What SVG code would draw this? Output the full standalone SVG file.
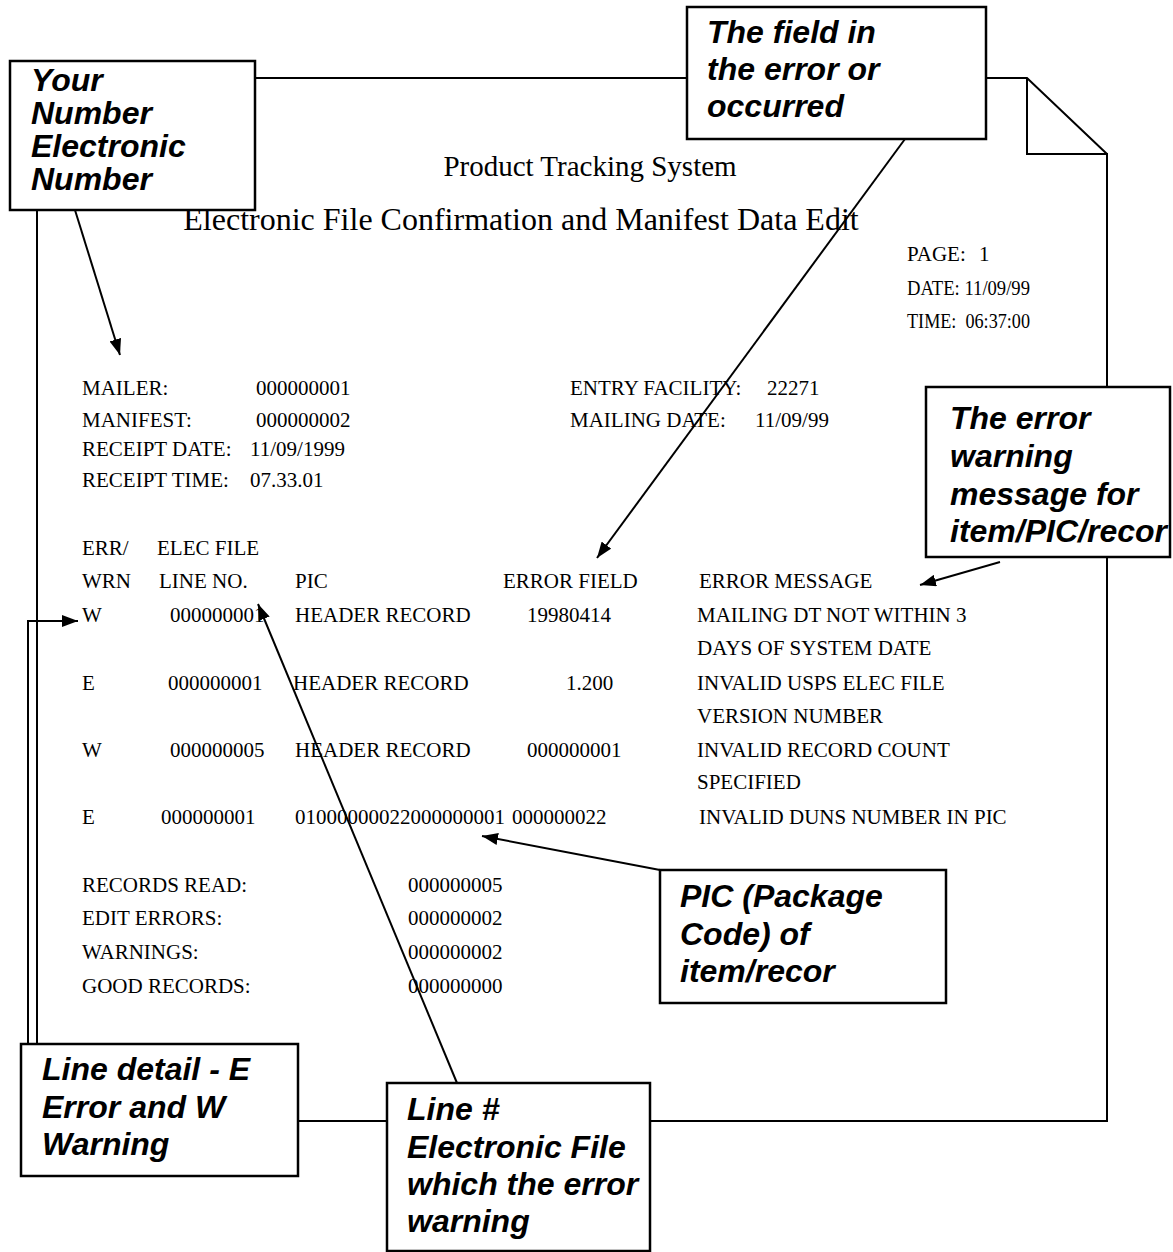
<svg xmlns="http://www.w3.org/2000/svg" width="1173" height="1252" viewBox="0 0 1173 1252">
<style>
.pg{fill:none;stroke:#000;stroke-width:2}
.box{fill:#fff;stroke:#000;stroke-width:2.5}
.co{font-family:"Liberation Sans",Arial,sans-serif;font-weight:bold;font-style:italic;font-size:32px;fill:#000}
.t{font-family:"Liberation Serif","Times New Roman",serif;font-size:21px;fill:#000}
.ttl{font-family:"Liberation Serif","Times New Roman",serif;font-size:29px;fill:#000}
.sub{font-family:"Liberation Serif","Times New Roman",serif;font-size:32px;fill:#000}
.cn{fill:none;stroke:#000;stroke-width:2}
</style>
<defs>
<marker id="ah" viewBox="0 0 16 12" refX="16" refY="6" markerWidth="16" markerHeight="12" markerUnits="userSpaceOnUse" orient="auto">
<path d="M0,0 L16,6 L0,12 Z" fill="#000"/>
</marker>
</defs>
<rect width="1173" height="1252" fill="#fff"/>
<g id="page">
<path class="pg" d="M255,78 H687 M986,78 H1027 L1107,154 M1027,78 V154 H1107 V387 M1107,557 V1121 H650 M387,1121 H298 M37,210 V1044"/>
</g>
<g id="report">
<text class="ttl" x="590" y="176" text-anchor="middle">Product Tracking System</text>
<text class="sub" x="521" y="230" text-anchor="middle">Electronic File Confirmation and Manifest Data Edit</text>
<text class="t" x="907" y="261">PAGE:</text>
<text class="t" x="979" y="261">1</text>
<text class="t" x="907" y="295" textLength="123" lengthAdjust="spacingAndGlyphs">DATE: 11/09/99</text>
<text class="t" x="907" y="328" textLength="123" lengthAdjust="spacingAndGlyphs" xml:space="preserve">TIME:  06:37:00</text>
<text class="t" x="82" y="395">MAILER:</text>
<text class="t" x="256" y="395">000000001</text>
<text class="t" x="82" y="427">MANIFEST:</text>
<text class="t" x="256" y="427">000000002</text>
<text class="t" x="82" y="456">RECEIPT DATE:</text>
<text class="t" x="250" y="456">11/09/1999</text>
<text class="t" x="82" y="487">RECEIPT TIME:</text>
<text class="t" x="250" y="487">07.33.01</text>
<text class="t" x="570" y="395">ENTRY FACILITY:</text>
<text class="t" x="767" y="395">22271</text>
<text class="t" x="570" y="427">MAILING DATE:</text>
<text class="t" x="755" y="427">11/09/99</text>
<text class="t" x="82" y="555">ERR/</text>
<text class="t" x="157" y="555">ELEC FILE</text>
<text class="t" x="82" y="588">WRN</text>
<text class="t" x="159" y="588">LINE NO.</text>
<text class="t" x="295" y="588">PIC</text>
<text class="t" x="503" y="588">ERROR FIELD</text>
<text class="t" x="699" y="588">ERROR MESSAGE</text>
<text class="t" x="82" y="622">W</text>
<text class="t" x="170" y="622">000000001</text>
<text class="t" x="295" y="622">HEADER RECORD</text>
<text class="t" x="527" y="622">19980414</text>
<text class="t" x="697" y="622">MAILING DT NOT WITHIN 3</text>
<text class="t" x="697" y="655">DAYS OF SYSTEM DATE</text>
<text class="t" x="82" y="690">E</text>
<text class="t" x="168" y="690">000000001</text>
<text class="t" x="293" y="690">HEADER RECORD</text>
<text class="t" x="566" y="690">1.200</text>
<text class="t" x="697" y="690">INVALID USPS ELEC FILE</text>
<text class="t" x="697" y="723">VERSION NUMBER</text>
<text class="t" x="82" y="757">W</text>
<text class="t" x="170" y="757">000000005</text>
<text class="t" x="295" y="757">HEADER RECORD</text>
<text class="t" x="527" y="757">000000001</text>
<text class="t" x="697" y="757">INVALID RECORD COUNT</text>
<text class="t" x="697" y="789">SPECIFIED</text>
<text class="t" x="82" y="824">E</text>
<text class="t" x="161" y="824">000000001</text>
<text class="t" x="295" y="824">01000000022000000001</text>
<text class="t" x="512" y="824">000000022</text>
<text class="t" x="699" y="824">INVALID DUNS NUMBER IN PIC</text>
<text class="t" x="82" y="892">RECORDS READ:</text>
<text class="t" x="408" y="892">000000005</text>
<text class="t" x="82" y="925">EDIT ERRORS:</text>
<text class="t" x="408" y="925">000000002</text>
<text class="t" x="82" y="959">WARNINGS:</text>
<text class="t" x="408" y="959">000000002</text>
<text class="t" x="82" y="993">GOOD RECORDS:</text>
<text class="t" x="408" y="993">000000000</text>
</g>
<g id="connectors">
<line class="cn" x1="75" y1="210" x2="120" y2="355" marker-end="url(#ah)"/>
<line class="cn" x1="905" y1="139" x2="597" y2="558" marker-end="url(#ah)"/>
<line class="cn" x1="1000" y1="562" x2="920" y2="585" marker-end="url(#ah)"/>
<line class="cn" x1="660" y1="870" x2="482" y2="836" marker-end="url(#ah)"/>
<line class="cn" x1="457" y1="1083" x2="258" y2="604" marker-end="url(#ah)"/>
<polyline class="cn" points="28,1044 28,621 78,621" marker-end="url(#ah)"/>
</g>
<g id="callout-number">
<rect class="box" x="10" y="61" width="245" height="149"/>
<text class="co" x="31" y="91">Your</text>
<text class="co" x="31" y="124">Number</text>
<text class="co" x="31" y="157">Electronic</text>
<text class="co" x="31" y="190">Number</text>
</g>
<g id="callout-field">
<rect class="box" x="687" y="7" width="299" height="132"/>
<text class="co" x="707" y="43">The field in</text>
<text class="co" x="707" y="80">the error or</text>
<text class="co" x="707" y="117">occurred</text>
</g>
<g id="callout-message">
<rect class="box" x="926" y="387" width="244" height="170"/>
<text class="co" x="950" y="429">The error</text>
<text class="co" x="950" y="467">warning</text>
<text class="co" x="950" y="505">message for</text>
<text class="co" x="950" y="542">item/PIC/recor</text>
</g>
<g id="callout-pic">
<rect class="box" x="660" y="870" width="286" height="133"/>
<text class="co" x="680" y="907">PIC (Package</text>
<text class="co" x="680" y="945">Code) of</text>
<text class="co" x="680" y="982">item/recor</text>
</g>
<g id="callout-linedetail">
<rect class="box" x="21" y="1044" width="277" height="132"/>
<text class="co" x="42" y="1080">Line detail - E</text>
<text class="co" x="42" y="1118">Error and W</text>
<text class="co" x="42" y="1155">Warning</text>
</g>
<g id="callout-linenum">
<rect class="box" x="387" y="1083" width="263" height="168"/>
<text class="co" x="407" y="1120">Line #</text>
<text class="co" x="407" y="1158">Electronic File</text>
<text class="co" x="407" y="1195">which the error</text>
<text class="co" x="407" y="1232">warning</text>
</g>
</svg>
